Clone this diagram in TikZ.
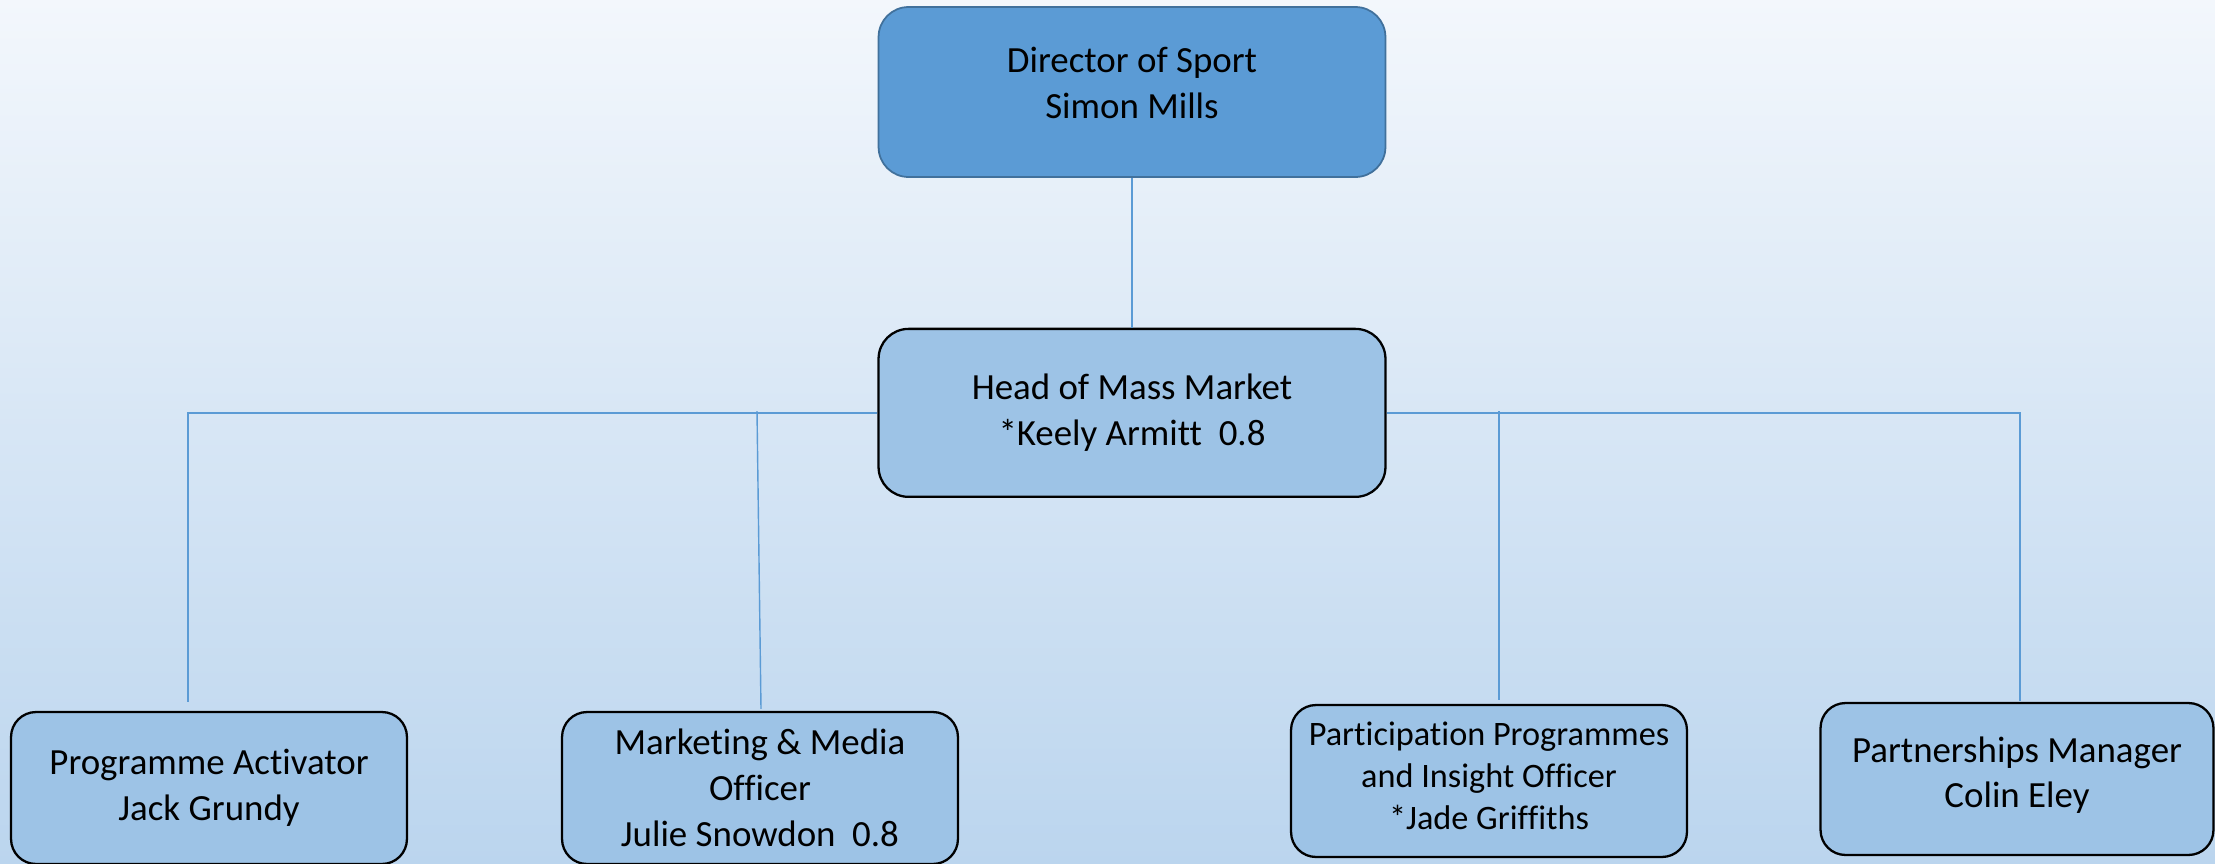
\documentclass[tikz,border=0pt]{standalone}
\usepackage{fontspec}
\setmainfont{Carlito}[Ligatures={NoCommon,NoContextual}]
\usepackage{tikz}
\usetikzlibrary{calc}
\definecolor{sdark}{HTML}{5B9BD5}
\definecolor{slight}{HTML}{9DC3E6}
\definecolor{sedge}{HTML}{41719C}
\definecolor{sline}{HTML}{5B9BD5}
\definecolor{bgtop}{HTML}{F3F7FC}
\definecolor{bgbot}{HTML}{BBD5EE}

\begin{document}
\begin{tikzpicture}[x=0.02cm, y=-0.02cm,
    TOPBOX/.style={draw=sedge, fill=sdark, line width=1pt, rectangle, rounded corners=0.6cm, minimum width=10.14cm, minimum height=3.4cm, inner sep=0pt},
    ROLE/.style={draw=black, fill=slight, line width=1.3pt, rectangle, rounded corners=0.5cm, minimum width=7.92cm, minimum height=3.04cm, inner sep=0pt},
    LNK/.style={draw=sline, line width=0.8pt},
    TXT/.style={font=\fontsize{21}{26}\selectfont}
    ]
        \shade[top color=bgtop, bottom color=bgbot] (0,0) rectangle (2215,863);
        \useasboundingbox (0,0) rectangle (2215,863);
        \node[TOPBOX, TXT] (DS) at (1132,92) {\parbox{8cm}{\centering Director of Sport\\Simon Mills\par\vspace{0.36cm}}};
        \node[ROLE, TXT, minimum width=10.14cm, minimum height=3.36cm, rounded corners=0.6cm] (HM) at ($(DS.south)+(0,235)$) {\parbox{8cm}{\centering Head of Mass Market\\\relax *Keely Armitt\ \ 0.8}};
        \draw[LNK] (DS.south) -- (HM.north);
        \node[ROLE, TXT] (PA) at (209,788) {\parbox{7cm}{\centering Programme Activator\\Jack Grundy}};
        \node[ROLE, TXT] (MM) at (760,788) {\parbox{7cm}{\centering Marketing \& Media\\Officer\\Julie Snowdon\ \ 0.8}};
        \node[ROLE, TXT, font=\fontsize{19.5}{24}\selectfont] (PP) at (1489,781) {\parbox{7.6cm}{\centering Participation Programmes\\and Insight Officer\\\relax *Jade Griffiths\par\vspace{0.2cm}}};
        \node[ROLE, TXT, minimum width=7.86cm] (PM) at (2017,779) {\parbox{7cm}{\centering Partnerships Manager\\Colin Eley\par\vspace{0.16cm}}};
        % drops from the bar
        \coordinate (pa) at ($(PA.north)+(-21,-9)$);
        \coordinate (mmt) at (757,411);
        \coordinate (mmb) at ($(MM.north)+(1,-2)$);
        \coordinate (ppt) at (1499,411);
        \coordinate (pp) at ($(PP.north)+(10,-4)$);
        \coordinate (pm) at ($(PM.north)+(3,-1)$);
        \draw[LNK] (HM.west) -| (pa);
        \draw[LNK] (HM.east) -| (pm);
        \draw[LNK] (mmt) -- (mmb);
        \draw[LNK] (ppt) -- (pp);
    \end{tikzpicture}
\end{document}
